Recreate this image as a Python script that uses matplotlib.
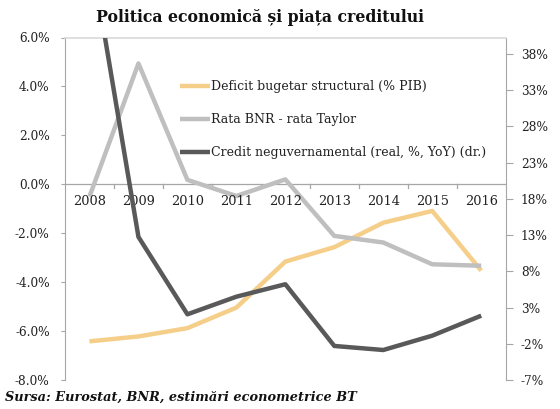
import matplotlib
matplotlib.use("Agg")
import matplotlib.pyplot as plt
import numpy as np

years = ["2008", "2009", "2010", "2011", "2012", "2013", "2014", "2015", "2016"]
deficit = [-6.42, -6.22, -5.88, -5.04, -3.16, -2.57, -1.57, -1.09, -3.53]
rata = [-0.5, 4.94, 0.18, -0.48, 0.2, -2.11, -2.38, -3.27, -3.33]
credit = [53.0, 12.75, 2.07, 4.5, 6.22, -2.3, -2.86, -0.88, 1.88]
left_ticks = [6, 4, 2, 0, -2, -4, -6, -8]
right_ticks = [38, 33, 28, 23, 18, 13, 8, 3, -2, -7]

C_OR = "#F5CF8A"
C_LG = "#BFBFBF"
C_DG = "#595959"
C_AX = "#A6A6A6"

FONT = "DejaVu Serif"
plt.rcParams["font.family"] = FONT

fig = plt.figure(figsize=(5.6, 4.09), dpi=100)
ax = fig.add_axes([65/560, 1-380/409, (505.7-65)/560, (380-37.5)/409])
ax2 = ax.twinx()

x = np.arange(len(years))
l1, = ax.plot(x, deficit, color=C_OR, lw=3.2, solid_capstyle="butt", zorder=3)
l2, = ax.plot(x, rata, color=C_LG, lw=3.2, solid_capstyle="butt", zorder=3)
l3, = ax2.plot(x, credit, color=C_DG, lw=3.2, solid_capstyle="butt", zorder=3)

ax.set_xlim(-0.5, 8.5)
ax.set_ylim(-8, 6)
ax2.set_ylim(-7, 40.28)

ax.set_yticks(left_ticks)
ax.set_yticklabels([f"{v:.1f}%" for v in left_ticks], fontsize=8.7)
ax2.set_yticks(right_ticks)
ax2.set_yticklabels([f"{v}%" for v in right_ticks], fontsize=8.7)

ax.set_xticks([])
# category axis along y=0
ax.axhline(0, color=C_AX, lw=0.9, zorder=1)
for b in np.arange(0.5, 8.5, 1.0):
    ax.plot([b, b], [0, -0.17], color=C_AX, lw=0.9, zorder=1, clip_on=False)
for xi, yr in zip(x, years):
    ax.text(xi, -0.72, yr, ha="center", va="center", fontsize=9.3, color="#222222")

for s in ["top", "bottom"]:
    ax.spines[s].set_visible(False)
    ax2.spines[s].set_visible(False)
ax2.spines["top"].set_visible(True)
ax2.spines["top"].set_color("#D9D9D9")
ax2.spines["top"].set_linewidth(1.2)
ax.spines["left"].set_color(C_AX)
ax2.spines["right"].set_color(C_AX)
ax2.spines["left"].set_visible(False)
ax.spines["right"].set_visible(False)
ax.tick_params(axis="y", length=3, color=C_AX, pad=8, labelcolor="#222222")
ax2.tick_params(axis="y", length=5, color=C_AX, pad=6, labelcolor="#222222")

leg = ax2.legend([l1, l2, l3],
                 ["Deficit bugetar structural (% PIB)", "Rata BNR - rata Taylor",
                  "Credit neguvernamental (real, %, YoY) (dr.)"],
                 loc="upper left", bbox_to_anchor=(180/560, 1-80/409),
                 bbox_transform=fig.transFigure, frameon=False, fontsize=9,
                 handlelength=2.4, handletextpad=0.1, labelspacing=1.6,
                 borderaxespad=0, borderpad=0)
for t in leg.get_texts():
    t.set_color("#222222")

fig.text(0.465, 1-18/409, "Politica economică și piața creditului", ha="center",
         va="center", fontsize=11.3, fontweight="bold", color="#111111")
fig.text(5/560, 1-397/409, "Sursa: Eurostat, BNR, estimări econometrice BT", ha="left",
         va="center", fontsize=9.3, fontweight="bold", fontstyle="italic", color="#111111")

fig.savefig("out.png", dpi=100)
